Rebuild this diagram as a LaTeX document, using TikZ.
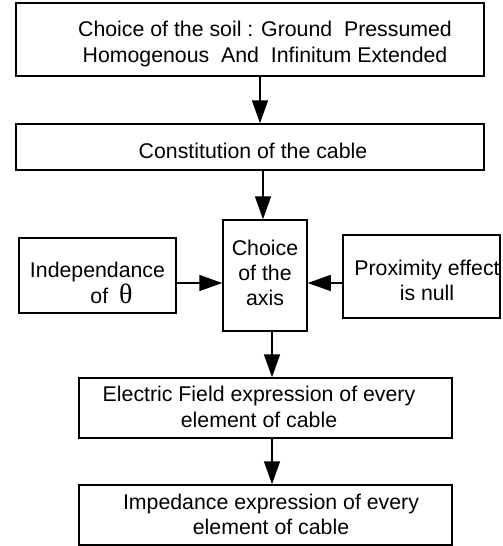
\documentclass[tikz,border=0pt]{standalone}
\usepackage{fontspec}
\setmainfont{Liberation Sans}
\newfontfamily\thetafont{Liberation Serif}
\usetikzlibrary{arrows.meta}
\begin{document}
\begin{tikzpicture}[x=1pt,y=-1pt,
  box/.style={draw, line width=1.5pt, inner sep=0pt},
  txt/.style={font=\fontsize{21.3}{26}\selectfont, align=center, inner sep=0pt, anchor=base},
  arr/.style={line width=1.5pt, -{Triangle[width=16pt,length=23pt]}}]
\useasboundingbox (0,0) rectangle (503,546);
% boxes
\node[box, minimum width=468pt, minimum height=73pt] (b1) at (250,39.5) {};
\node[box, minimum width=468pt, minimum height=46pt] (b2) at (250,147) {};
\node[box, minimum width=84pt, minimum height=111pt] (axis) at (265,275.5) {};
\node[box, minimum width=157pt, minimum height=75pt] (left) at (97.5,275.5) {};
\node[box, minimum width=157pt, minimum height=83pt] (right) at (421.5,276.5) {};
\node[box, minimum width=373pt, minimum height=60pt] (efield) at (265.5,408) {};
\node[box, minimum width=373pt, minimum height=60pt] (imped) at (265.5,515) {};
% texts (base anchor = baseline of the last line)
\node[txt] (t1) at (265,62) {Choice of the soil : Ground\ \ Pressumed\\Homogenous\ \ And\ \ Infinitum Extended};
\node[txt] (t2) at (253,158) {Constitution of the cable};
\node[txt] (taxis) at (265,305) {Choice\\[-1pt]of the\\[-1pt]axis};
\node[txt] (tleft) at (97.5,303) {Independance\\\hspace*{28pt}of\hspace{11pt}{\thetafont\fontsize{28}{26}\selectfont θ}};
\node[txt] (tright) at (427,300) {Proximity effect\\[-1pt]is null};
\node[txt] (tefield) at (259,427) {Electric Field expression of every\\element of cable};
\node[txt] (timped) at (271,534) {Impedance expression of every\\[-1pt]element of cable};
% arrows
\draw[arr] ([xshift=10pt]b1.south) -- ([xshift=10pt]b2.north);
\draw[arr] ([xshift=13pt]b2.south) -- ([xshift=-2pt]axis.north);
\draw[arr] ([yshift=-7.5pt]left.east) -- ([yshift=-7.5pt]axis.west);
\draw[arr] ([yshift=-6.5pt]right.west) -- ([yshift=-7.5pt]axis.east);
\draw[arr] ([xshift=7pt]axis.south) -- ([xshift=6.5pt]efield.north);
\draw[arr] ([xshift=6.5pt]efield.south) -- ([xshift=6.5pt]imped.north);
\end{tikzpicture}
\end{document}
